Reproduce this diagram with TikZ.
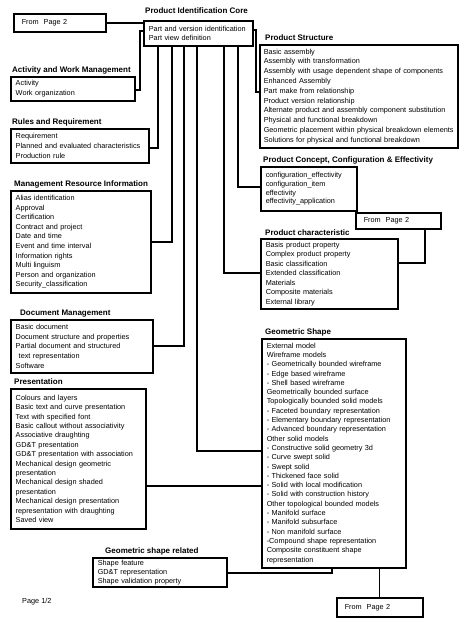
\documentclass[tikz,border=0pt]{standalone}
\usepackage{fontspec}
\setmainfont{Liberation Sans}
\colorlet{lcol}{black}
\tikzstyle{modbox}=[draw, line width=1.5pt, anchor=north west, align=left, inner xsep=5pt, inner ysep=2pt]
\tikzstyle{frombox}=[modbox, inner xsep=8pt, font=\fontsize{7.3}{9}\selectfont]
\tikzstyle{modtitle}=[anchor=base west, inner sep=0pt, font=\bfseries\fontsize{8}{9}\selectfont]
\tikzstyle{link}=[line width=1.5pt, lcol]
\tikzstyle{thinlink}=[line width=0.6pt, lcol]
\tikzset{linegap/.style={font=\fontsize{7.3}{#1}\selectfont}}

\begin{document}
\begin{tikzpicture}[x=1pt, y=-1pt]
	\useasboundingbox (0,0) rectangle (464,622);

	% Boxes, left column
	\node[frombox, text width=76pt, minimum height=18pt] (froma) at (13,13) {From\ \ Page 2};
	\node[modbox, linegap=9, text width=99pt, minimum height=25pt] (core) at (143,20) {Part and version identification\\Part view definition};
	\node[modbox, linegap=10, text width=114pt, minimum height=24pt] (act) at (10,76) {Activity\\Work organization};
	\node[modbox, linegap=10.3, text width=128pt, minimum height=34pt] (rules) at (10,128) {Requirement\\Planned and evaluated characteristics\\Production rule};
	\node[modbox, linegap=9.6, text width=130pt, minimum height=102pt] (mgmt) at (10,190) {Alias identification\\Approval\\Certification\\Contract and project\\Date and time\\Event and time interval\\Information rights\\Multi linguism\\Person and organization\\Security\_classification};
	\node[modbox, linegap=9.8, text width=132pt, minimum height=53pt] (doc) at (10,319) {Basic document\\Document structure and properties\\Partial document and structured\\\hspace*{3pt}text representation\\Software};
	\node[modbox, linegap=9.4, text width=125pt, minimum height=140pt] (pres) at (10,388) {Colours and layers\\Basic text and curve presentation\\Text with specified font\\Basic callout without associativity\\Associative draughting\\GD\&T presentation\\GD\&T presentation with association\\Mechanical design geometric\\presentation\\Mechanical design shaded\\presentation\\Mechanical design presentation\\representation with draughting\\Saved view};
	\node[modbox, linegap=9, text width=124pt, minimum height=29pt] (georel) at (92,557) {Shape feature\\GD\&T representation\\Shape validation property};

	% Boxes, right column
	\node[modbox, linegap=9.8, inner xsep=4pt, text width=190pt, minimum height=103pt] (ps) at (259,44) {Basic assembly\\Assembly with transformation\\Assembly with usage dependent shape of components\\Enhanced Assembly\\Part make from relationship\\Product version relationship\\Alternate product and assembly component substitution\\Physical and functional breakdown\\Geometric placement within physical breakdown elements\\Solutions for physical and functional breakdown};
	\node[modbox, linegap=8.8, text width=86pt, minimum height=44pt] (pcce) at (260,166) {configuration\_effectivity\\configuration\_item\\effectivity\\effectivity\_application};
	\node[frombox, text width=69pt, minimum height=16pt] (fromb) at (355,212) {From\ \ Page 2};
	\node[modbox, linegap=9.5, text width=127pt, minimum height=70pt] (pchar) at (260,238) {Basis product property\\Complex product property\\Basic classification\\Extended classification\\Materials\\Composite materials\\External library};
	\node[modbox, linegap=9.3, text width=134pt, minimum height=229pt] (geo) at (261,338) {External model\\Wireframe models\\- Geometrically bounded wireframe\\- Edge based wireframe\\- Shell based wireframe\\Geometrically bounded surface\\Topologically bounded solid models\\- Faceted boundary representation\\- Elementary boundary representation\\- Advanced boundary representation\\Other solid models\\- Constructive solid geometry 3d\\- Curve swept solid\\- Swept solid\\- Thickened face solid\\- Solid with local modification\\- Solid with construction history\\Other topological bounded models\\- Manifold surface\\- Manifold subsurface\\- Non manifold surface\\-Compound shape representation\\Composite constituent shape\\representation};
	\node[frombox, text width=70pt, minimum height=19pt] (fromc) at (336,597) {From\ \ Page 2};

	% Titles
	\node[modtitle] (coret) at (145,13) {Product Identification Core};
	\node[modtitle] (actt) at (12,72) {Activity and Work Management};
	\node[modtitle] (rulest) at (12,124) {Rules and Requirement};
	\node[modtitle] (mgmtt) at (14,186) {Management Resource Information};
	\node[modtitle] (doct) at (20,315) {Document Management};
	\node[modtitle] (prest) at (14,384) {Presentation};
	\node[modtitle] (georelt) at (105,553) {Geometric shape related};
	\node[modtitle] (pst) at (265,40) {Product Structure};
	\node[modtitle] (pccet) at (263,162) {Product Concept, Configuration \& Effectivity};
	\node[modtitle] (pchart) at (265,235) {Product characteristic};
	\node[modtitle] (geot) at (265,334) {Geometric Shape};
	\node[anchor=base west, inner sep=0pt, font=\fontsize{7.3}{9}\selectfont] (page) at (22,603) {Page 1/2};

	% Bends
	\coordinate (a1) at (140,31);
	\coordinate (a2) at (140,90);
	\coordinate (b1) at (158,148);
	\coordinate (b2) at (172,242);
	\coordinate (b3) at (184,346);
	\coordinate (b4) at (197,451);
	\coordinate (b5) at (224,273);
	\coordinate (b6) at (238,187);
	\coordinate (s1) at (256,30);
	\coordinate (s2) at (256,92);
	\coordinate (p1) at (0,486);
	\coordinate (g1) at (332,573);
	\coordinate (m1) at (425,263);

	% Left side
	\draw[link] (froma.east) -- (froma.east -| core.west);
	\draw[link] (a2 -| act.east) -- (a2) -- (a1) -- (a1 -| core.west);
	\draw[link] (b1 -| rules.east) -| (core.south -| b1);
	\draw[link] (b2 -| mgmt.east) -| (core.south -| b2);
	\draw[link] (b3 -| doc.east) -| (core.south -| b3);
	\draw[link] (core.south -| b4) |- (b4 -| geo.west);
	\draw[link] (p1 -| pres.east) -- (p1 -| geo.west);
	% Right side
	\draw[link] (s1 -| core.east) -- (s1) -- (s2) -- (s2 -| ps.west);
	\draw[link] (core.south -| b6) |- (b6 -| pcce.west);
	\draw[link] (core.south -| b5) |- (b5 -| pchar.west);
	\draw[link] (m1 |- fromb.south) -- (m1) -- (m1 -| pchar.east);
	% Bottom
	\draw[link] (g1 -| georel.east) -- (g1) -- (g1 |- geo.south);
	\draw[thinlink] (fromc.north) -- (fromc.north |- geo.south);
\end{tikzpicture}
\end{document}
